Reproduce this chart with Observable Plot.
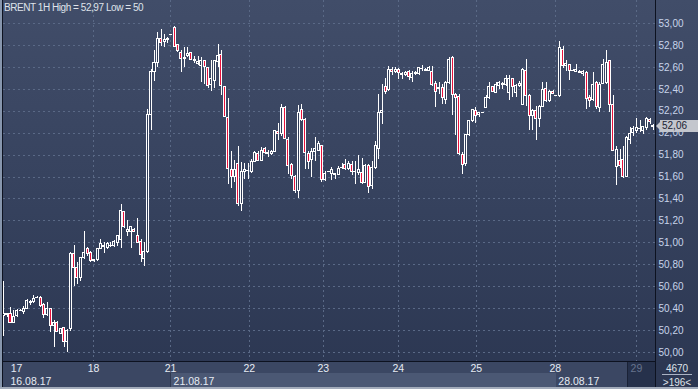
<!DOCTYPE html>
<html><head><meta charset="utf-8">
<script src="https://cdn.jsdelivr.net/npm/d3@7"></script>
<script src="https://cdn.jsdelivr.net/npm/@observablehq/plot@0.6"></script>
<style>
body{margin:0;background:#2b3651;}
#wrap{position:relative;width:698px;height:389px;overflow:hidden;font-family:"Liberation Sans",Arial,sans-serif;font-size:10px;
 background:linear-gradient(to bottom,#414d69 0%,#36425e 50%,#2b3651 100%);}
#chart{width:698px;height:389px;}
#chart svg{position:absolute;left:0;top:0;max-width:none;width:698px;height:389px;}
.abs{position:absolute;}
</style></head><body>
<div id="wrap">
  <div class="abs" style="left:3px;top:361px;width:652px;height:28px;background:#3b4763;border-top:1px solid #0d1220;box-sizing:border-box;"></div>
  <div class="abs" style="left:170px;top:373px;width:385px;height:14px;background:#4b5874;border-left:1px solid #2e3950;"></div>
  <div class="abs" style="left:627px;top:362px;width:28px;height:26px;background:#26314b;border-left:1px solid #1a2236;"></div>
  <div class="abs" style="left:656px;top:362px;width:42px;height:26px;background:#2c3752;"></div>
  <div id="chart" class="abs" style="left:0;top:0;"></div>
  <div class="abs" style="left:0;top:0;width:2px;height:389px;background:#8796ad;"></div>
  <div class="abs" style="left:2px;top:0;width:1px;height:389px;background:#0d1220;"></div>
  <div class="abs" style="left:655px;top:0;width:1px;height:389px;background:#0d1220;"></div>
  <div class="abs" style="left:0;top:387px;width:698px;height:2px;background:#a3acbb;"></div>
</div>
<script>
const open  = [50.33,50.35,50.35,50.27,50.33,50.38,50.37,50.40,50.45,50.46,50.50,50.50,50.43,50.34,50.40,50.24,50.27,50.17,50.22,50.10,
50.21,50.90,50.77,50.68,50.86,50.94,50.91,50.83,50.84,50.94,50.97,50.95,50.98,50.97,51.00,51.03,51.28,51.10,51.10,51.12,
51.06,51.01,50.85,50.92,52.17,52.56,52.64,52.86,52.83,52.85,52.90,52.96,52.80,52.73,52.68,52.70,52.73,52.67,52.63,52.61,
52.66,52.59,52.44,52.48,52.65,52.71,52.42,52.14,51.66,51.60,51.72,51.35,51.65,51.66,51.65,51.74,51.81,51.75,51.86,51.82,
51.81,51.83,52.01,51.99,52.23,51.94,51.71,51.60,51.47,52.21,52.12,51.81,51.76,51.83,51.84,51.88,51.57,51.65,51.63,51.63,
51.62,51.69,51.71,51.67,51.71,51.65,51.64,51.64,51.55,51.70,51.52,51.68,51.86,52.18,52.42,52.39,52.58,52.56,52.58,52.54,
52.53,52.56,52.50,52.54,52.54,52.59,52.58,52.57,52.56,52.45,52.40,52.41,52.30,52.46,52.69,52.35,52.33,51.80,51.72,51.98,
52.11,52.20,52.17,52.19,52.23,52.32,52.42,52.37,52.43,52.45,52.44,52.37,52.49,52.37,52.43,52.26,52.57,52.34,52.16,52.20,
52.13,52.24,52.40,52.29,52.38,52.34,52.34,52.76,52.61,52.62,52.57,52.56,52.56,52.54,52.55,52.32,52.30,52.46,52.23,52.45,
52.46,52.66,52.26,51.69,51.75,51.76,51.60,51.94,52.00,52.02,52.04,52.02,52.05,52.12,52.07];
const high  = [50.65,50.36,50.41,50.38,50.39,50.39,50.42,50.48,50.47,50.52,50.51,50.51,50.45,50.46,50.40,50.29,50.28,50.22,50.22,50.21,
50.91,50.98,50.82,50.87,51.10,50.96,50.92,50.85,50.95,51.03,51.00,51.00,51.00,51.02,51.07,51.35,51.29,51.20,51.15,51.13,
51.22,51.03,51.00,52.22,52.58,52.75,52.92,52.95,52.90,52.87,52.90,52.97,52.81,52.75,52.78,52.78,52.74,52.70,52.70,52.69,
52.66,52.60,52.66,52.66,52.81,52.75,52.43,52.32,51.83,51.75,51.88,51.73,51.72,51.72,51.76,51.83,51.83,51.87,51.87,51.84,
51.84,52.02,52.09,52.26,52.24,51.96,51.72,51.61,52.25,52.26,52.13,51.83,51.86,51.96,51.92,51.89,51.65,51.65,51.69,51.63,
51.70,51.72,51.76,51.74,51.74,51.74,51.80,51.77,51.71,51.71,51.74,51.92,52.35,52.44,52.50,52.61,52.60,52.60,52.59,52.55,
52.56,52.57,52.56,52.56,52.60,52.62,52.59,52.61,52.61,52.47,52.46,52.44,52.47,52.69,52.70,52.36,52.35,51.82,51.99,52.12,
52.22,52.23,52.19,52.19,52.34,52.46,52.43,52.46,52.47,52.46,52.53,52.53,52.50,52.44,52.47,52.59,52.67,52.35,52.22,52.24,
52.25,52.46,52.46,52.39,52.39,52.34,52.84,52.79,52.66,52.63,52.58,52.63,52.57,52.57,52.56,52.34,52.55,52.47,52.46,52.67,
52.75,52.66,52.34,51.88,51.85,51.88,51.97,52.05,52.06,52.13,52.12,52.06,52.14,52.13,52.08];
const low   = [50.15,50.32,50.26,50.26,50.32,50.37,50.35,50.40,50.43,50.45,50.49,50.41,50.31,50.33,50.18,50.05,50.18,50.16,50.05,50.00,
50.19,50.60,50.62,50.65,50.85,50.88,50.82,50.82,50.83,50.94,50.90,50.94,50.96,50.96,50.97,50.95,51.13,51.06,50.95,51.09,
50.99,50.82,50.78,50.90,52.02,52.47,52.60,52.79,52.78,52.82,52.90,52.78,52.74,52.55,52.60,52.69,52.66,52.64,52.62,52.46,
52.44,52.41,52.38,52.41,52.60,52.34,52.14,51.53,51.50,51.55,51.33,51.29,51.58,51.58,51.63,51.73,51.75,51.74,51.81,51.78,
51.80,51.82,51.93,51.97,51.94,51.62,51.58,51.45,51.40,52.11,51.67,51.67,51.60,51.74,51.83,51.55,51.56,51.64,51.57,51.58,
51.62,51.67,51.66,51.66,51.61,51.53,51.61,51.53,51.54,51.45,51.49,51.67,51.76,52.08,52.35,52.38,52.53,52.54,52.49,52.49,
52.52,52.48,52.46,52.53,52.53,52.56,52.56,52.56,52.43,52.23,52.35,52.26,52.26,52.44,52.16,51.98,51.80,51.62,51.70,51.97,
52.10,52.09,52.14,52.19,52.23,52.31,52.37,52.36,52.40,52.40,52.43,52.30,52.33,52.33,52.42,52.25,52.24,52.02,52.02,51.93,
52.05,52.23,52.28,52.28,52.35,52.34,52.33,52.59,52.56,52.48,52.56,52.55,52.54,52.52,52.22,52.23,52.29,52.22,52.19,52.44,
52.44,52.19,51.83,51.52,51.68,51.59,51.60,51.90,51.97,52.00,52.01,51.99,52.02,52.08,52.02];
const close = [50.35,50.34,50.27,50.32,50.38,50.38,50.40,50.47,50.46,50.49,50.50,50.42,50.34,50.40,50.24,50.27,50.19,50.21,50.10,50.20,
50.90,50.77,50.68,50.86,50.91,50.90,50.83,50.84,50.94,50.99,50.96,50.99,50.98,51.01,51.06,51.29,51.14,51.12,51.14,51.10,
51.00,50.89,50.92,52.17,52.56,52.64,52.86,52.82,52.85,52.86,52.90,52.79,52.75,52.68,52.69,52.72,52.67,52.66,52.65,52.66,
52.60,52.43,52.49,52.66,52.70,52.43,52.15,51.67,51.60,51.66,51.35,51.65,51.66,51.66,51.74,51.82,51.75,51.84,51.82,51.81,
51.83,52.02,51.99,52.23,51.95,51.70,51.61,51.47,52.18,52.12,51.82,51.74,51.83,51.86,51.90,51.57,51.63,51.65,51.66,51.62,
51.67,51.69,51.67,51.72,51.65,51.65,51.66,51.55,51.70,51.51,51.68,51.88,52.18,52.20,52.38,52.58,52.56,52.58,52.55,52.53,
52.55,52.51,52.54,52.55,52.59,52.59,52.57,52.59,52.44,52.38,52.41,52.32,52.46,52.67,52.35,52.32,51.81,51.71,51.98,52.11,
52.21,52.16,52.18,52.19,52.32,52.42,52.38,52.44,52.46,52.44,52.49,52.49,52.42,52.43,52.45,52.58,52.34,52.16,52.20,52.13,
52.24,52.39,52.29,52.38,52.36,52.34,52.78,52.61,52.63,52.57,52.57,52.58,52.55,52.56,52.31,52.29,52.44,52.24,52.44,52.62,
52.64,52.26,51.84,51.85,51.70,51.60,51.96,51.99,52.04,52.05,52.04,52.06,52.13,52.10,52.06];
const dayLabels = ["17","18","21","22","23","24","25","28","29"];
const dayPos    = [3.8, 26.8, 49.8, 73.3, 95.4, 117.8, 141.1, 164.7, 188.9];
const weekLabels = ["16.08.17","21.08.17","28.08.17"];
const weekPos    = [1.1, 49.8, 164.7];
const yTicks = d3.range(0, 16).map(k => +(50 + k * 0.2).toFixed(2));
const barCount = "4670", visibleCount = ">196<";

const bars = close.map((c, i) => ({i, o: open[i], h: high[i], l: low[i], c}));
const fmt = v => v.toFixed(2).replace(".", ",");
const fmtShort = v => String(+v.toFixed(2)).replace(".", ",");
const RED = "#e8123c", UPFILL = "#313d59", GRID = "#5a6986";
const crisp = {shapeRendering: "crispEdges"};

const chart = Plot.plot({
  width: 698, height: 389,
  marginLeft: 3, marginRight: 43, marginTop: 0, marginBottom: 28,
  x: {type: "linear", domain: [-0.09, 194.6], axis: null},
  y: {domain: [49.918, 53.21], axis: null},
  style: {background: "transparent", fontFamily: "'Liberation Sans', Arial, sans-serif", fontSize: "10px", overflow: "visible"},
  marks: [
    Plot.gridY(yTicks, {stroke: GRID, strokeOpacity: 1, strokeDasharray: "2,3", ...crisp}),
    Plot.ruleX(dayPos.slice(1), {stroke: GRID, strokeDasharray: "2,3", ...crisp}),
    Plot.ruleX(bars, {x: "i", y1: "l", y2: "h", stroke: "#ffffff", strokeWidth: 1, ...crisp}),
    Plot.rect(bars.filter(d => d.o !== d.c), {
      x1: d => d.i - 0.3, x2: d => d.i + 0.3, y1: "o", y2: "c",
      fill: d => d.c < d.o ? RED : UPFILL, stroke: "#ffffff", strokeWidth: 1, ...crisp
    }),
    Plot.ruleY(bars.filter(d => d.o === d.c), {y: "c", x1: d => d.i - 0.45, x2: d => d.i + 0.45, stroke: "#ffffff", ...crisp}),
    Plot.axisY(yTicks, {anchor: "right", tickSize: 0, tickPadding: 3, tickFormat: fmt, fill: "#c8d4ea", textAnchor: "start"}),
    Plot.text(dayLabels, {x: (d, i) => dayPos[i], text: d => d, frameAnchor: "bottom", dy: 7,
      fill: d => d === "29" ? "#66748e" : "#e6ebf3", textAnchor: "middle", lineAnchor: "middle", fontSize: 10.5, clip: false}),
    Plot.text(weekLabels, {x: (d, i) => weekPos[i], text: d => d, frameAnchor: "bottom", dy: 20, dx: 3,
      fill: "#e6ebf3", textAnchor: "start", lineAnchor: "middle", fontSize: 10.5, clip: false})
  ]
});
document.getElementById("chart").appendChild(chart);

const wrap = document.getElementById("wrap");
const yScale = chart.scale("y");
const last = close[close.length - 1];
const ly = yScale.apply(last);
const title = document.createElement("div");
title.className = "abs";
title.style.cssText = "left:4px;top:2px;color:#dfe3ea;font-size:10px;letter-spacing:-0.45px;white-space:nowrap;";
title.textContent = `BRENT 1H High = ${fmtShort(d3.max(high))} Low = ${fmtShort(d3.min(low))}`;
wrap.appendChild(title);

const tag = document.createElement("div");
tag.className = "abs";
tag.style.cssText = `left:660px;top:${ly - 6}px;width:38px;height:12px;background:#c3c6cd;color:#1b2233;font-size:10px;line-height:12px;padding-left:2px;box-sizing:border-box;`;
tag.textContent = fmt(last);
wrap.appendChild(tag);
const arrow = document.createElement("div");
arrow.className = "abs";
arrow.style.cssText = `left:656px;top:${ly - 4}px;width:0;height:0;border-top:4px solid transparent;border-bottom:4px solid transparent;border-right:4px solid #c3c6cd;`;
wrap.appendChild(arrow);

const cnt = document.createElement("div");
cnt.className = "abs";
cnt.style.cssText = "left:656px;top:363px;width:42px;text-align:center;color:#dfe3ea;font-size:10px;line-height:11px;";
cnt.innerHTML = `<div style="border-bottom:1px solid #aab3c4;margin:0 6px 2px;">${barCount}</div><div>${visibleCount.replace("<","&lt;").replace(">","&gt;")}</div>`;
wrap.appendChild(cnt);
</script>
</body></html>
